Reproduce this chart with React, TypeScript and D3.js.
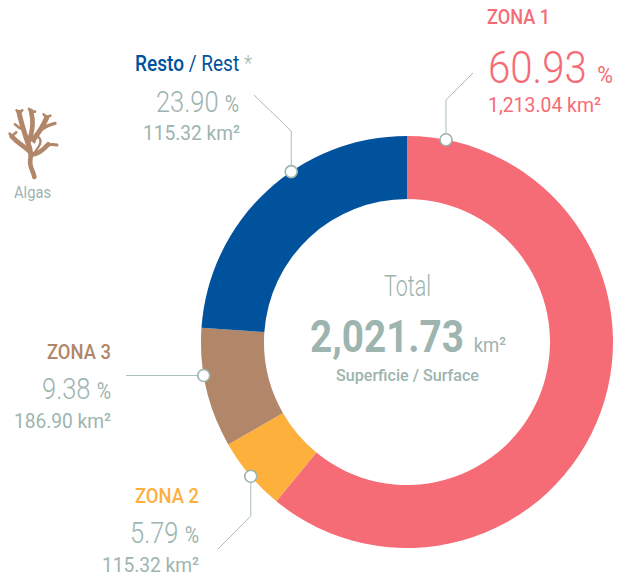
import React from "react";
import * as d3 from "d3";

const zones = ["ZONA 1", "ZONA 2", "ZONA 3", "Resto"];
const shares = [60.93, 5.79, 9.38, 23.9];
const colors = ["#f56b76", "#fdb03c", "#b18669", "#00529c"];
// position of each marker along the ring, in data units (percent, clockwise from the top)
const markerAt = [3.03, 63.7, 72.4, 90.5];

const FONT = "Roboto, 'Liberation Sans', sans-serif";
const GREY = "#9db4af";
const LINE = "#a9bdb9";

type TProps = {
  x: number; y: number; w: number; size: number; fill: string; weight?: number;
  children: React.ReactNode;
};
function T({ x, y, w, size, fill, weight = 300, children }: TProps) {
  return (
    <text x={x} y={y} fontSize={size} fill={fill} fontWeight={weight}
      fontFamily={FONT} textLength={w} lengthAdjust="spacingAndGlyphs">
      {children}
    </text>
  );
}

function Unit({ size, children }: { size: number; children: React.ReactNode }) {
  return <tspan fontSize={size} fontWeight={400}>{children}</tspan>;
}

function Algae() {
  const stems = [
    { d: "M88 216 C85 196 72 186 76 165 C78 150 78 135 72 122", w: 14 },
    { d: "M74 140 C60 125 42 118 20 94", w: 14 },
    { d: "M72 124 C62 95 50 62 42 22", w: 15 },
    { d: "M70 112 C82 85 88 55 78 18", w: 14 },
    { d: "M84 104 C100 85 115 62 125 38", w: 15 },
    { d: "M112 72 C125 62 138 58 150 55", w: 10 },
    { d: "M78 150 C100 148 118 132 130 118", w: 14 },
    { d: "M125 122 C135 118 145 118 156 120", w: 9 },
    { d: "M86 146 C100 128 112 112 104 100 C98 92 90 98 88 112", w: 7 },
    { d: "M45 70 C40 66 36 62 30 58", w: 8 },
    { d: "M20 94 L14 86 M20 94 L34 82", w: 8 },
    { d: "M42 24 L35 16 M43 24 L52 16", w: 8 },
    { d: "M78 20 L72 12 M78 20 L90 20", w: 8 },
    { d: "M125 38 L116 28 M125 38 L136 32", w: 8 },
  ];
  return (
    <g transform="translate(5,105) scale(0.3333)" fill="none" stroke={colors[2]}
      strokeLinecap="round" strokeLinejoin="round">
      {stems.map((s, i) => (
        <path key={i} d={s.d} strokeWidth={s.w} />
      ))}
    </g>
  );
}

export default function App() {
  const cx = 407, cy = 342, outer = 206, inner = 143;
  const total = d3.sum(shares);
  const pie = d3.pie<number>().sort(null).value((d) => d)(shares);
  const arc = d3.arc<d3.PieArcDatum<number>>().innerRadius(inner).outerRadius(outer);
  const angle = d3.scaleLinear().domain([0, total]).range([0, 2 * Math.PI]);
  const markers = markerAt.map((v) => {
    const a = angle(v);
    return [cx + outer * Math.sin(a), cy - outer * Math.cos(a)];
  });
  const leader = d3.line();
  const [m1, m2, m3, m4] = markers;
  return (
    <svg width={627} height={580} style={{ position: "absolute", left: 0, top: 0 }}>
      <g transform={`translate(${cx},${cy})`}>
        {pie.map((d, i) => (
          <path key={zones[i]} d={arc(d) as string} fill={colors[i]} />
        ))}
      </g>

      <g fill="none" stroke={LINE} strokeWidth={1}>
        <path d={leader([[m1[0], m1[1]], [m1[0], 100], [473, 73]]) as string} />
        <path d={leader([[m4[0], m4[1]], [m4[0], 131], [254, 95]]) as string} />
        <path d={leader([[m3[0], m3[1]], [126, m3[1]]]) as string} />
        <path d={leader([[m2[0], m2[1]], [m2[0], 516], [218, 549]]) as string} />
      </g>
      {markers.map((m, i) => (
        <circle key={i} cx={m[0]} cy={m[1]} r={6} fill="#fff" stroke="#9db4af" strokeWidth={1.6} />
      ))}

      <T x={487} y={24} w={63} size={21} fill={colors[0]} weight={500}>ZONA 1</T>
      <T x={488} y={83} w={125} size={45} fill={colors[0]}>
        60.93<Unit size={24}>{"\u00a0\u00a0%"}</Unit>
      </T>
      <T x={488} y={112} w={113} size={21} fill={colors[0]} weight={400}>1,213.04 km²</T>

      <T x={135} y={71} w={117} size={22} fill={colors[3]} weight={500}>
        Resto <tspan fontWeight={400}>/ Rest </tspan><tspan fill={GREY} fontWeight={300}>*</tspan>
      </T>
      <T x={156} y={112} w={83} size={30} fill={GREY}>23.90 <Unit size={23}>%</Unit></T>
      <T x={143} y={140} w={97} size={21} fill={GREY} weight={400}>115.32 km²</T>

      <Algae />
      <T x={14} y={198} w={37} size={16} fill={GREY} weight={400}>Algas</T>

      <T x={47} y={359} w={64} size={21} fill={colors[2]} weight={500}>ZONA 3</T>
      <T x={42} y={399} w={69} size={30} fill={GREY}>9.38 <Unit size={23}>%</Unit></T>
      <T x={14} y={428} w={97} size={21} fill={GREY} weight={400}>186.90 km²</T>

      <T x={135} y={503} w={64} size={21} fill={colors[1]} weight={500}>ZONA 2</T>
      <T x={130} y={543} w={69} size={30} fill={GREY}>5.79 <Unit size={23}>%</Unit></T>
      <T x={102} y={572} w={97} size={21} fill={GREY} weight={400}>115.32 km²</T>

      <T x={384} y={296} w={47} size={29} fill={GREY}>Total</T>
      <T x={310} y={352} w={196} size={44} fill={GREY} weight={700}>
        2,021.73{"\u00a0"}<Unit size={21}>km²</Unit>
      </T>
      <T x={336} y={381} w={143} size={17} fill={GREY} weight={500}>Superficie / Surface</T>
    </svg>
  );
}
